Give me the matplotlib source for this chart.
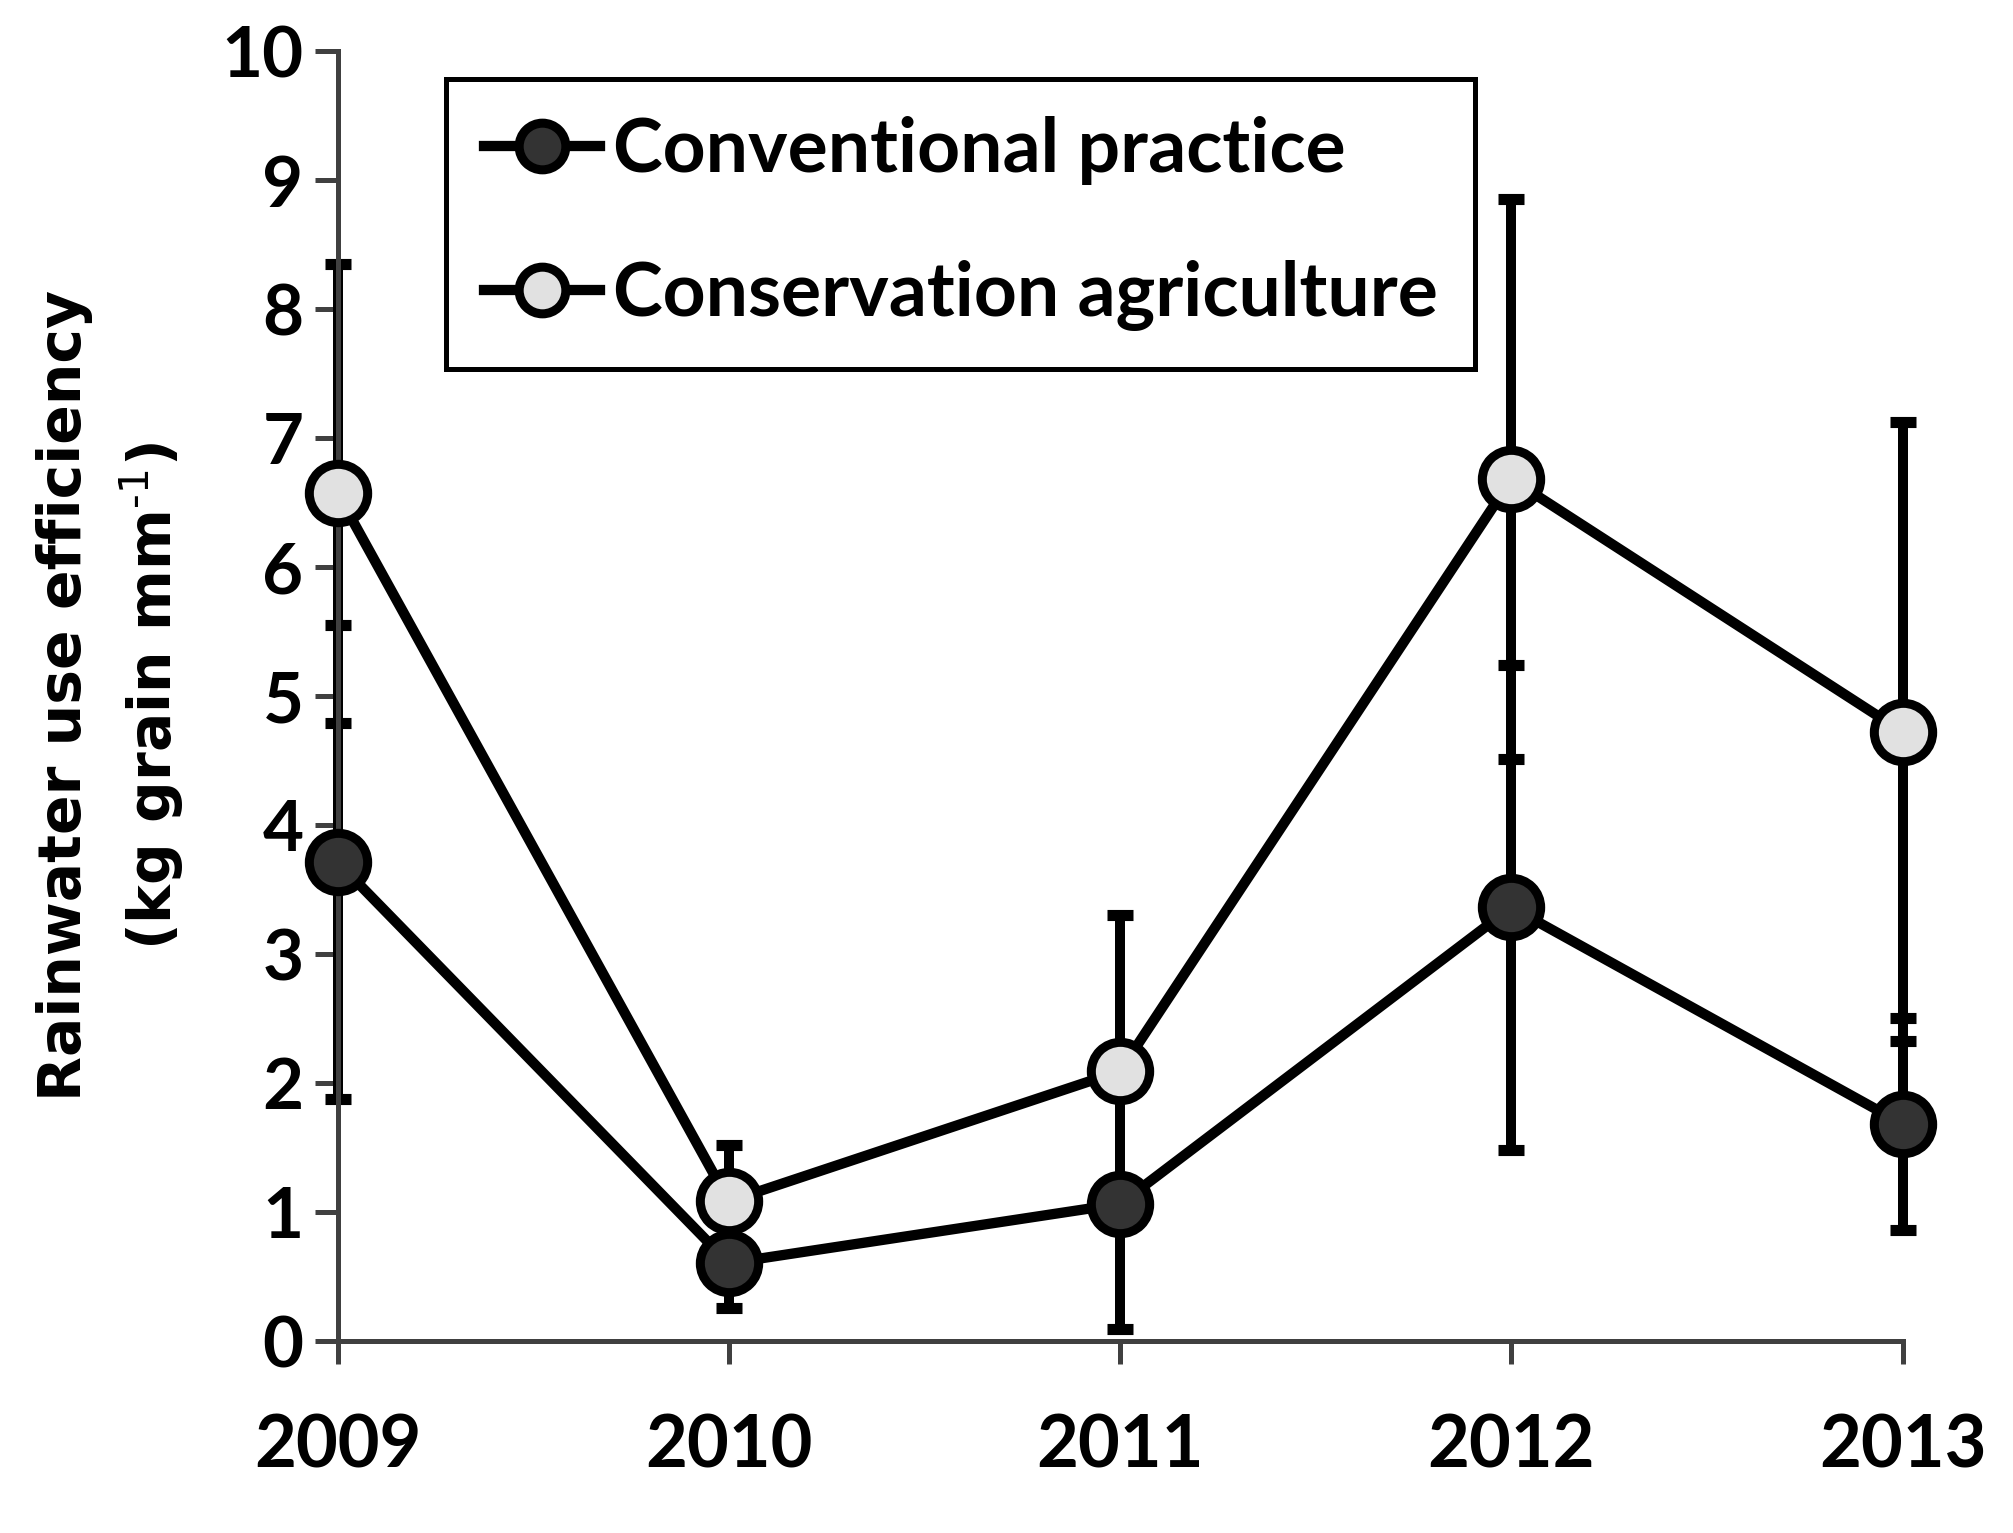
""" rainwater use efficiency of two tillage systems, 2009-2013 """

from matplotlib import pyplot as plt

years = [2009, 2010, 2011, 2012, 2013]
conventional = [3.71, 0.60, 1.06, 3.36, 1.68]
conventional_err = [1.84, 0.35, 0.97, 1.88, 0.82]
conservation = [6.57, 1.08, 2.09, 6.68, 4.72]
conservation_err = [1.78, 0.44, 1.21, 2.17, 2.40]
y_ticks = list(range(0, 11))

plt.rcParams["mathtext.default"] = "bf"

fig = plt.figure(figsize=(20.13, 15.33), dpi=100)
ax = fig.add_axes((0.1677, 0.1255, 0.9452 - 0.1677, 0.9667 - 0.1255))

error_style = dict(fmt="none", ecolor="black", elinewidth=7.2, capsize=9.7, capthick=8, zorder=2)
ax.errorbar(years, conventional, yerr=conventional_err, **error_style)
ax.errorbar(years, conservation, yerr=conservation_err, **error_style)

marker_style = dict(color="black", linewidth=7.4, marker="o", markersize=42,
                    markeredgewidth=6.5, markeredgecolor="black", zorder=3)
ax.plot(years, conventional, markerfacecolor="#333333", label="Conventional practice", **marker_style)
ax.plot(years, conservation, markerfacecolor="#e1e1e1", label="Conservation agriculture", **marker_style)

ax.set_xlim(years[0], years[-1])
ax.set_ylim(0, 10)
ax.set_xticks(years)
ax.set_yticks(y_ticks)
ax.set_xticklabels([str(y) for y in years], fontfamily="Lato", fontweight="bold", fontsize=52)
ax.set_yticklabels([str(t) for t in y_ticks], fontfamily="Lato", fontweight="bold", fontsize=51)
ax.tick_params(axis="both", direction="out", length=16.5, width=3.6, color="#404040")
ax.tick_params(axis="x", pad=36)
ax.tick_params(axis="y", pad=8)
for side in ("top", "right"):
	ax.spines[side].set_visible(False)
for side in ("left", "bottom"):
	ax.spines[side].set_linewidth(3.6)
	ax.spines[side].set_color("#404040")
for artist in ax.lines + ax.collections:
	artist.set_clip_on(False)

centre = 0.1255 + (0.9667 - 0.1255)/2
fig.text(0.0319, centre, "Rainwater use efficiency", rotation=90, ha="center", va="center",
         fontfamily="DejaVu Sans", fontweight="bold", fontsize=42)
fig.text(0.0753, centre, "(kg grain mm$^{\\text{-1}}$)", rotation=90, ha="center", va="center",
         fontfamily="DejaVu Sans", fontweight="bold", fontsize=42)

legend = ax.legend(
	loc="upper left", bbox_to_anchor=(0.2216, 0.9485), bbox_transform=fig.transFigure,
	borderaxespad=0, borderpad=0.5, labelspacing=1.0, handlelength=1.55, handletextpad=0.17,
	markerscale=0.8, fancybox=False, framealpha=1, edgecolor="black",
	prop=dict(family="Lato", weight="bold", size=54),
)
legend.get_frame().set_linewidth(3.6)

fig.savefig("out.png", dpi=100)
